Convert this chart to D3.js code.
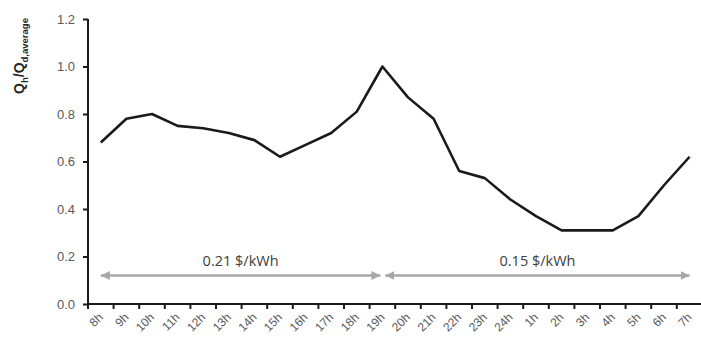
<!DOCTYPE html>
<html><head><meta charset="utf-8">
<script src="https://cdn.jsdelivr.net/npm/d3@7"></script>
<style>body{margin:0;background:#fff;} svg{display:block;}</style>
</head><body>
<script>
const categories = ["8h","9h","10h","11h","12h","13h","14h","15h","16h","17h","18h","19h","20h","21h","22h","23h","24h","1h","2h","3h","4h","5h","6h","7h"];
const values = [0.68,0.78,0.80,0.75,0.74,0.72,0.69,0.62,0.67,0.72,0.81,1.00,0.87,0.78,0.56,0.53,0.44,0.37,0.31,0.31,0.31,0.37,0.50,0.62];
const yTicks = [0,0.2,0.4,0.6,0.8,1.0,1.2];
const tariffs = [
  {label:"0.21 $/kWh", from:"8h", to:"19h", level:0.12},
  {label:"0.15 $/kWh", from:"19h", to:"7h", level:0.12}
];

const W=701,H=341;
const svg=d3.select("body").append("svg").attr("width",W).attr("height",H);
const x=d3.scaleBand().domain(categories).range([88,88+24*25.6]);
const y=d3.scaleLinear().domain([0,1.2]).range([304,19]);

// arrows
const defs=svg.append("defs");
defs.append("marker").attr("id","ah").attr("viewBox","0 0 10 10").attr("refX",10).attr("refY",5)
  .attr("markerWidth",9).attr("markerHeight",9).attr("markerUnits","userSpaceOnUse").attr("orient","auto-start-reverse")
  .append("path").attr("d","M0,0L10,5L0,10Z").attr("fill","#a6a6a6");
tariffs.forEach((t,i)=>{
  const x1=x(t.from)+x.bandwidth()/2 + (i===1?3:0);
  const x2=x(t.to)+x.bandwidth()/2 - (i===0?2:0);
  svg.append("line").attr("x1",x1).attr("x2",x2).attr("y1",y(t.level)).attr("y2",y(t.level))
    .attr("stroke","#a6a6a6").attr("stroke-width",2.5)
    .attr("marker-start","url(#ah)").attr("marker-end","url(#ah)");
  svg.append("text").attr("x",(x1+x2)/2).attr("y",y(t.level)-10).attr("text-anchor","middle")
    .attr("font-family","'Open Sans',sans-serif").attr("font-size",14.5).attr("fill","#404040").text(t.label);
});

// line
svg.append("path").datum(values)
  .attr("d",d3.line().x((d,i)=>x(categories[i])+x.bandwidth()/2).y(d=>y(d)))
  .attr("fill","none").attr("stroke","#1a1a1a").attr("stroke-width",2.6).attr("stroke-linejoin","round");

// y axis
const ya=svg.append("g").attr("transform","translate(88,0)")
  .call(d3.axisLeft(y).tickValues(yTicks).tickFormat(d3.format(".1f")).tickSizeOuter(0).tickSize(5));
ya.select(".domain").attr("stroke","#1a1a1a").attr("stroke-width",2).attr("d","M0,19V305");
ya.selectAll(".tick line").attr("stroke","#1a1a1a").attr("stroke-width",2);
ya.selectAll(".tick text").attr("font-family","Arial,'Liberation Sans',sans-serif").attr("font-size",13).attr("fill","#595959").attr("x",-13);

// x axis
const xa=svg.append("g").attr("transform","translate(0,304)")
  .call(d3.axisBottom(x).tickSize(0).tickSizeOuter(0));
xa.select(".domain").attr("stroke","#1a1a1a").attr("stroke-width",2).attr("d","M87,0H701");
// boundary ticks
svg.append("g").selectAll("line").data(categories).join("line")
  .attr("x1",d=>x(d)).attr("x2",d=>x(d)).attr("y1",304).attr("y2",309)
  .attr("stroke","#1a1a1a").attr("stroke-width",2);
xa.selectAll(".tick text").attr("font-family","Arial,'Liberation Sans',sans-serif").attr("font-size",12).attr("fill","#595959")
  .attr("text-anchor","end").attr("dy",0).attr("y",0)
  .attr("transform","translate(3,14) rotate(-45)");

// y title
const yt=svg.append("text").attr("transform","translate(24,56) rotate(-90)").attr("text-anchor","middle")
  .attr("font-family","Arial,'Liberation Sans',sans-serif").attr("font-weight","bold").attr("font-size",14).attr("fill","#262626");
yt.append("tspan").text("Q");
yt.append("tspan").attr("font-size",9.5).attr("dy",4).text("h");
yt.append("tspan").attr("dy",-4).text("/Q");
yt.append("tspan").attr("font-size",9.5).attr("dy",4).text("d,average");
</script>
</body></html>
